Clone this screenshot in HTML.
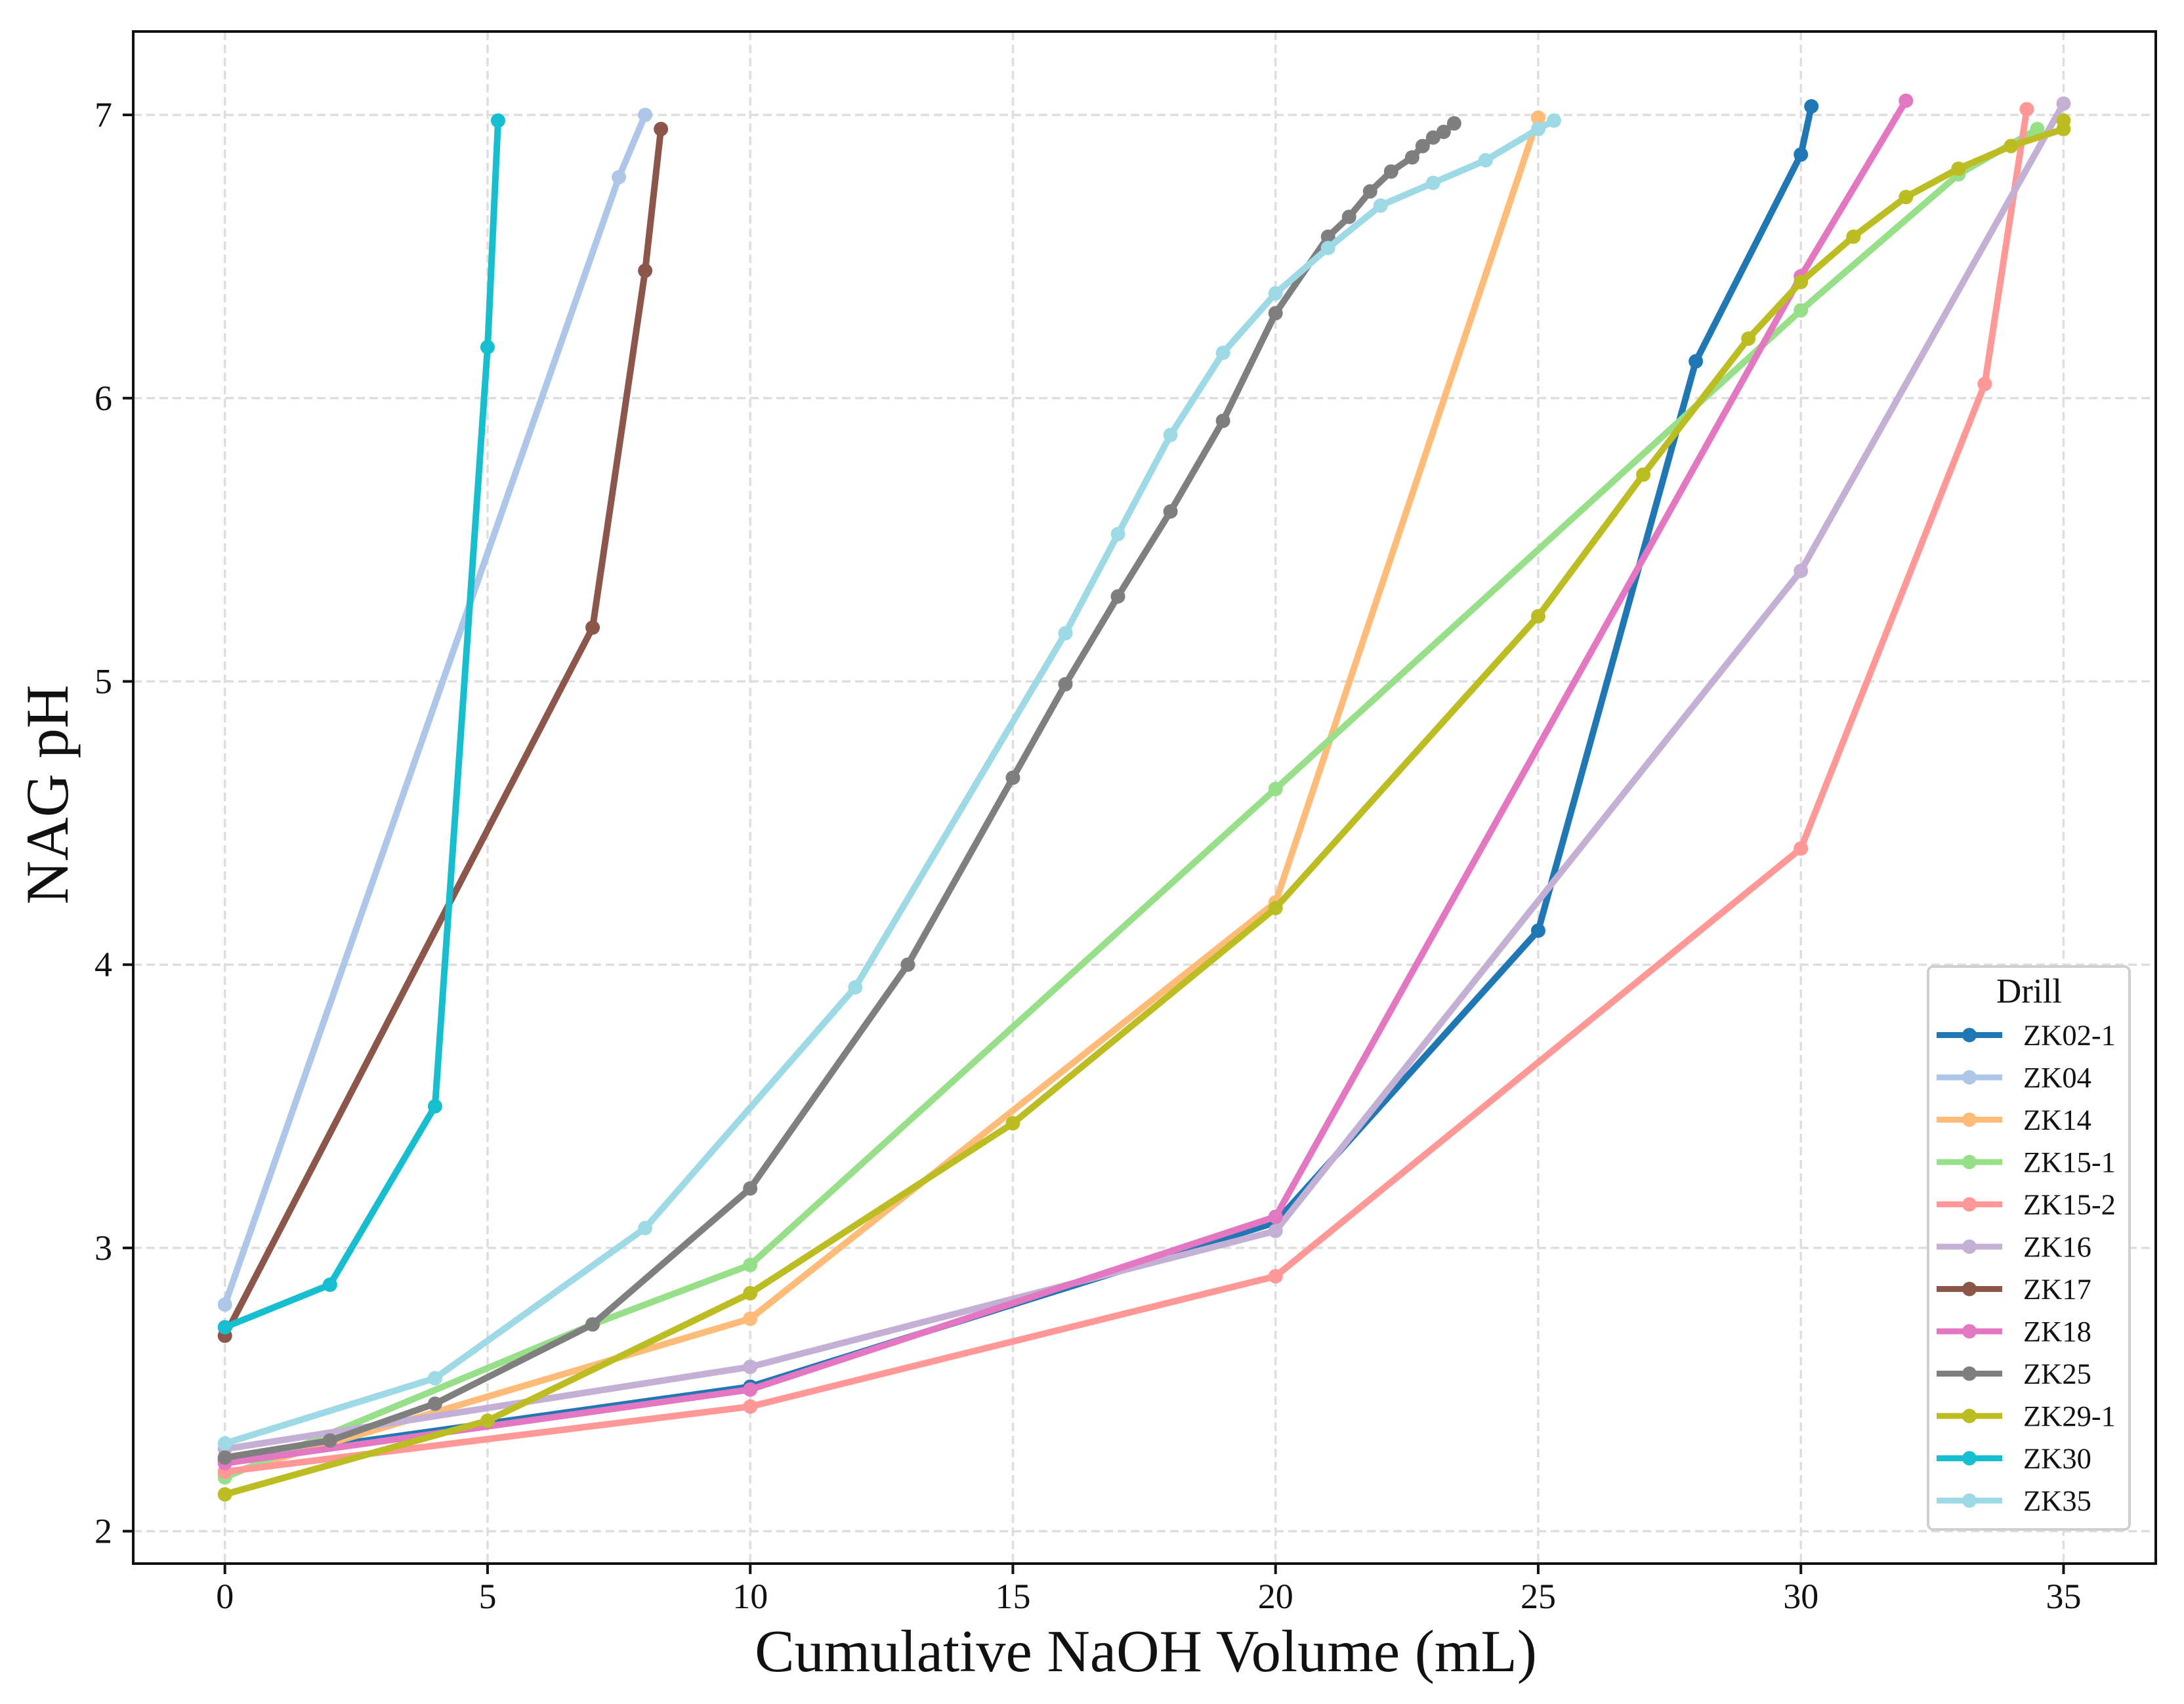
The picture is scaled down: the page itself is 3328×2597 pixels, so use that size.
<!DOCTYPE html>
<html lang="en">
<head>
<meta charset="utf-8">
<title>NAG pH vs Cumulative NaOH Volume</title>
<style>
html,body{margin:0;padding:0;background:#fff;width:3328px;height:2597px;overflow:hidden}
svg{display:block}
text{font-family:"Liberation Serif","Times New Roman",serif;fill:#111}
</style>
</head>
<body>
<svg id="chart" xmlns="http://www.w3.org/2000/svg" width="3328" height="2597" viewBox="0 0 3328 2597"></svg>
<script>
const xTickValues = [0, 5, 10, 15, 20, 25, 30, 35];
const yTickValues = [2, 3, 4, 5, 6, 7];
const xAxisTitle = "Cumulative NaOH Volume (mL)";
const yAxisTitle = "NAG pH";
const legendTitle = "Drill";

const zk02_1_x = [0, 10, 20, 25, 28, 30, 30.2];
const zk02_1_y = [2.25, 2.51, 3.09, 4.12, 6.13, 6.86, 7.03];
const zk04_x = [0, 7.5, 8];
const zk04_y = [2.80, 6.78, 7.00];
const zk14_x = [0, 10, 20, 25];
const zk14_y = [2.20, 2.75, 4.22, 6.99];
const zk15_1_x = [0, 7, 10, 20, 30, 33, 34.5];
const zk15_1_y = [2.19, 2.73, 2.94, 4.62, 6.31, 6.79, 6.95];
const zk15_2_x = [0, 10, 20, 30, 33.5, 34.3];
const zk15_2_y = [2.21, 2.44, 2.90, 4.41, 6.05, 7.02];
const zk16_x = [0, 10, 20, 30, 35];
const zk16_y = [2.29, 2.58, 3.06, 5.39, 7.04];
const zk17_x = [0, 7, 8, 8.3];
const zk17_y = [2.69, 5.19, 6.45, 6.95];
const zk18_x = [0, 10, 20, 30, 32];
const zk18_y = [2.24, 2.50, 3.11, 6.43, 7.05];
const zk25_x = [0, 2, 4, 7, 10, 13, 15, 16, 17, 18, 19, 20, 21, 21.4, 21.8, 22.2, 22.6, 22.8, 23, 23.2, 23.4];
const zk25_y = [2.26, 2.32, 2.45, 2.73, 3.21, 4.00, 4.66, 4.99, 5.30, 5.60, 5.92, 6.30, 6.57, 6.64, 6.73, 6.80, 6.85, 6.89, 6.92, 6.94, 6.97];
const zk29_1_x = [0, 5, 10, 15, 20, 25, 27, 29, 30, 31, 32, 33, 34, 35, 35];
const zk29_1_y = [2.13, 2.39, 2.84, 3.44, 4.20, 5.23, 5.73, 6.21, 6.41, 6.57, 6.71, 6.81, 6.89, 6.95, 6.98];
const zk30_x = [0, 2, 4, 5, 5.2];
const zk30_y = [2.72, 2.87, 3.50, 6.18, 6.98];
const zk35_x = [0, 4, 8, 12, 16, 17, 18, 19, 20, 21, 22, 23, 24, 25, 25.3];
const zk35_y = [2.31, 2.54, 3.07, 3.92, 5.17, 5.52, 5.87, 6.16, 6.37, 6.53, 6.68, 6.76, 6.84, 6.95, 6.98];

const seriesNames = ["ZK02-1", "ZK04", "ZK14", "ZK15-1", "ZK15-2", "ZK16", "ZK17", "ZK18", "ZK25", "ZK29-1", "ZK30", "ZK35"];
const seriesX = [zk02_1_x, zk04_x, zk14_x, zk15_1_x, zk15_2_x, zk16_x, zk17_x, zk18_x, zk25_x, zk29_1_x, zk30_x, zk35_x];
const seriesY = [zk02_1_y, zk04_y, zk14_y, zk15_1_y, zk15_2_y, zk16_y, zk17_y, zk18_y, zk25_y, zk29_1_y, zk30_y, zk35_y];
const seriesColors = ["#1f77b4", "#aec7e8", "#ffbb78", "#98df8a", "#ff9896", "#c5b0d5", "#8c564b", "#e377c2", "#7f7f7f", "#bcbd22", "#17becf", "#9edae5"];

const svg = document.getElementById("chart");
const NS = "http://www.w3.org/2000/svg";
const plot = { left: 203, right: 3285, top: 48, bottom: 2383 };
const xScale = v => 342.7 + v * 80.05;
const yScale = v => 2333.6 - (v - 2) * 431.7;

function make(tag, attrs, parent) {
  const el = document.createElementNS(NS, tag);
  for (const k in attrs) el.setAttribute(k, attrs[k]);
  (parent || svg).appendChild(el);
  return el;
}
function slug(s) { return s.toLowerCase(); }

const bg = make("rect", { x: 0, y: 0, width: 3328, height: 2597, fill: "#ffffff" });



const gridGroup = make("g", { stroke: "#dedede", "stroke-width": 3.5, "stroke-dasharray": "13 7" });


xTickValues.forEach(v => {
  const l = make("line", { x1: xScale(v), x2: xScale(v), y1: plot.top, y2: plot.bottom }, gridGroup);
  
  
});
yTickValues.forEach(v => {
  const l = make("line", { x1: plot.left, x2: plot.right, y1: yScale(v), y2: yScale(v) }, gridGroup);
  
  
});

seriesNames.forEach((name, i) => {
  const g = make("g", {});
  
  
  const pts = seriesX[i].map((x, j) => xScale(x).toFixed(1) + "," + yScale(seriesY[i][j]).toFixed(1)).join(" ");
  const line = make("polyline", { points: pts, fill: "none", stroke: seriesColors[i], "stroke-width": 10, "stroke-linejoin": "round" }, g);
  
  
  seriesX[i].forEach((x, j) => {
    const c = make("circle", { cx: xScale(x), cy: yScale(seriesY[i][j]), r: 11, fill: seriesColors[i] }, g);
    
    
  });
});

const frame = make("rect", { x: plot.left, y: plot.top, width: plot.right - plot.left, height: plot.bottom - plot.top, fill: "none", stroke: "#111", "stroke-width": 4 });



xTickValues.forEach(v => {
  const t = make("line", { x1: xScale(v), x2: xScale(v), y1: plot.bottom, y2: plot.bottom + 16, stroke: "#111", "stroke-width": 4 });
  
  
  const lab = make("text", { x: xScale(v), y: 2451, "text-anchor": "middle", "font-size": 54 });
  lab.textContent = v;
  
  
});
yTickValues.forEach(v => {
  const t = make("line", { x1: plot.left - 16, x2: plot.left, y1: yScale(v), y2: yScale(v), stroke: "#111", "stroke-width": 4 });
  
  
  const lab = make("text", { x: 171, y: yScale(v) + 18, "text-anchor": "end", "font-size": 54 });
  lab.textContent = v;
  
  
});

const xTitle = make("text", { x: 1746, y: 2547, "text-anchor": "middle", "font-size": 90.6 });
xTitle.textContent = xAxisTitle;



const yTitle = make("text", { x: 0, y: 0, "text-anchor": "middle", "font-size": 92, transform: "translate(103 1211) rotate(-90)" });
yTitle.textContent = yAxisTitle;



const legend = make("g", {});


const legendBox = make("rect", { x: 2938, y: 1473, width: 307, height: 858, rx: 8, ry: 8, fill: "#ffffff", stroke: "#cfcfcf", "stroke-width": 4 }, legend);


const legendHead = make("text", { x: 3092, y: 1528, "text-anchor": "middle", "font-size": 53 }, legend);
legendHead.textContent = legendTitle;


seriesNames.forEach((name, i) => {
  const rowY = 1577.5 + i * 64.5;
  const row = make("g", {}, legend);
  
  
  const sw = make("line", { x1: 2951, x2: 3051, y1: rowY, y2: rowY, stroke: seriesColors[i], "stroke-width": 9 }, row);
  
  
  const dot = make("circle", { cx: 3001, cy: rowY, r: 11, fill: seriesColors[i] }, row);
  
  
  const lab = make("text", { x: 3083, y: rowY + 15, "font-size": 44.5 }, row);
  lab.textContent = name;
  
  
});
</script>
</body>
</html>
